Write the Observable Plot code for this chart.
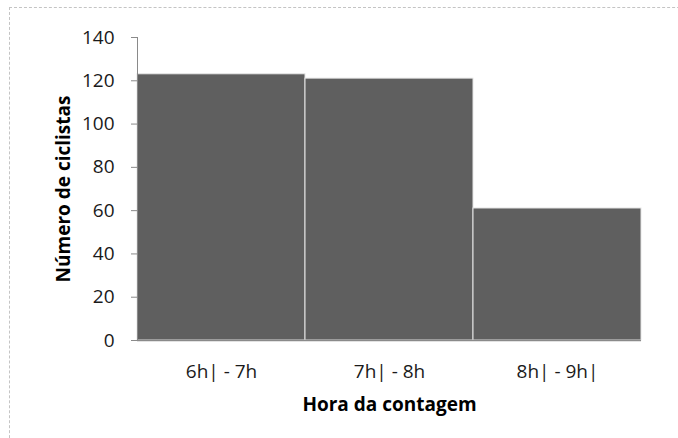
<!DOCTYPE html>
<html>
<head>
<meta charset="utf-8">
<script src="https://cdn.jsdelivr.net/npm/d3@7"></script>
<script src="https://cdn.jsdelivr.net/npm/@observablehq/plot@0.6"></script>
<style>
  html, body { margin: 0; padding: 0; background: #fff; }
  #wrap { position: relative; width: 678px; height: 438px; overflow: hidden; }
  #edge {
    position: absolute; left: 9px; top: 7px; width: 700px; height: 460px;
    border-top: 1px dashed #c4c4c4; border-left: 1px dashed #c4c4c4;
    pointer-events: none;
  }
  svg { font-family: "Open Sans", sans-serif; }
</style>
</head>
<body>
<div id="wrap"><div id="edge"></div></div>
<script>
// Ciclistas contados por faixa horária
const horas = ["6h| - 7h", "7h| - 8h", "8h| - 9h|"];
const ciclistas = [123, 121, 61];
const yTicks = [0, 20, 40, 60, 80, 100, 120, 140];

const data = horas.map((h, i) => ({hora: h, n: ciclistas[i]}));

const chart = Plot.plot({
  width: 678,
  height: 438,
  marginLeft: 137,
  marginRight: 37,
  marginTop: 37,
  marginBottom: 98,
  style: {fontFamily: "Open Sans, sans-serif", background: "transparent"},
  x: {domain: horas, padding: 0, label: null},
  y: {domain: [0, 140], label: null},
  marks: [
    Plot.barY(data, {
      x: "hora", y: "n",
      fill: "#5f5f5f", stroke: "#e6e6e6", strokeWidth: 1
    }),
    Plot.frame({anchor: "left", stroke: "#8a8a8a"}),
    Plot.axisY({
      ticks: yTicks, tickSize: 6, tickPadding: 17, stroke: "#8a8a8a",
      fontSize: 19, fill: "#1a1a1a"
    }),
    Plot.ruleY([0], {stroke: "#8a8a8a", strokeWidth: 1.5}),
    Plot.axisX({
      tickSize: 0, tickPadding: 24, fontSize: 19, fill: "#1a1a1a"
    }),
    Plot.text(["Hora da contagem"], {
      frameAnchor: "bottom", dy: 70, fontSize: 19, fontWeight: "bold", fill: "#000"
    }),
    Plot.text(["Número de ciclistas"], {
      frameAnchor: "left", textAnchor: "middle", dx: -74, rotate: -90,
      fontSize: 19, fontWeight: "bold", fill: "#000"
    })
  ]
});

document.getElementById("wrap").prepend(chart);
</script>
</body>
</html>
